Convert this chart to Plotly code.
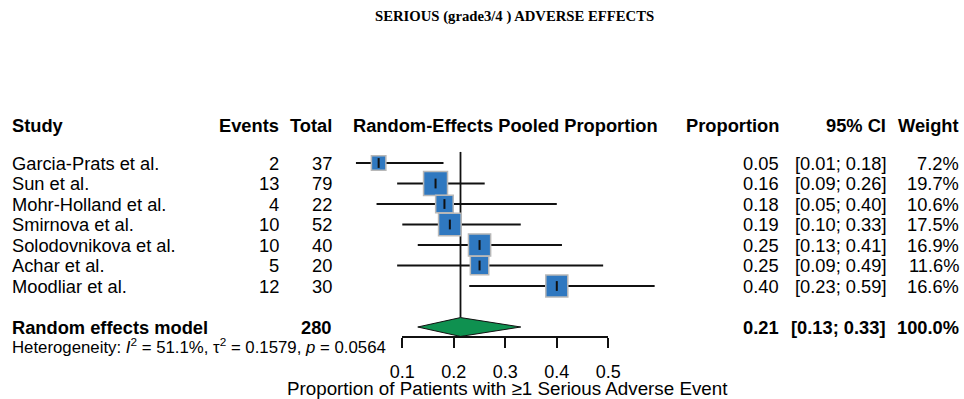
import plotly.graph_objects as go

# ---------------- data ----------------
studies = ["Garcia-Prats et al.", "Sun et al.", "Mohr-Holland et al.", "Smirnova et al.",
           "Solodovnikova et al.", "Achar et al.", "Moodliar et al."]
events = [2, 13, 4, 10, 10, 5, 12]
totals = [37, 79, 22, 52, 40, 20, 30]
ci_lo = [0.01, 0.09, 0.05, 0.10, 0.13, 0.09, 0.23]
ci_hi = [0.18, 0.26, 0.40, 0.33, 0.41, 0.49, 0.59]
weights = [7.2, 19.7, 10.6, 17.5, 16.9, 11.6, 16.6]

pooled_total = 280
pooled_est = 0.213
pooled_lo = 0.13
pooled_hi = 0.33
pooled_weight = 100.0

tick_vals = [0.1, 0.2, 0.3, 0.4, 0.5]
het_text = "Heterogeneity: <i>I</i><sup>2</sup> = 51.1%, τ<sup>2</sup> = 0.1579, <i>p</i> = 0.0564"
title_text = "SERIOUS (grade3/4 ) ADVERSE EFFECTS"
xlabel = "Proportion of Patients with ≥1 Serious Adverse Event"

# ---------------- layout helpers ----------------
W, H = 964, 399
FONT = "Liberation Sans, Arial, sans-serif"
FS = 18.3
px_per_unit = 515.0
px_at_01 = 402.3
x_range = [0.1 - px_at_01 / px_per_unit, 0.1 + (W - px_at_01) / px_per_unit]
row0_px, row_step = 163.0, 20.5
y_range = [(H - row0_px) / row_step, -row0_px / row_step]

def px(x):
    return x / W

est = [e / t for e, t in zip(events, totals)]
rows = list(range(len(studies)))
pooled_row = 8.0
header_row = -1.85
het_row = 8.95

fig = go.Figure()

# CI lines
cx, cy = [], []
for r, lo, hi in zip(rows, ci_lo, ci_hi):
    cx += [lo, hi, None]
    cy += [r, r, None]
fig.add_trace(go.Scatter(x=cx, y=cy, mode="lines", line=dict(color="#111111", width=2),
                         hoverinfo="skip", showlegend=False))

# reference line at pooled estimate
fig.add_trace(go.Scatter(x=[pooled_est, pooled_est], y=[-0.54, pooled_row - 0.46], mode="lines",
                         line=dict(color="#111111", width=1.8), hoverinfo="skip", showlegend=False))

# squares
fig.add_trace(go.Scatter(x=est, y=rows, mode="markers",
                         marker=dict(symbol="square", size=[5.4 * w ** 0.5 for w in weights],
                                     color="#2f78c0", opacity=1,
                                     line=dict(color="#b8b8b8", width=1.5)),
                         hoverinfo="skip", showlegend=False))
# center ticks
fig.add_trace(go.Scatter(x=est, y=rows, mode="markers",
                         marker=dict(symbol="line-ns", size=7, line=dict(color="#111111", width=2)),
                         hoverinfo="skip", showlegend=False))

# diamond
hh = 0.46
fig.add_trace(go.Scatter(x=[pooled_lo, pooled_est, pooled_hi, pooled_est, pooled_lo],
                         y=[pooled_row, pooled_row - hh, pooled_row, pooled_row + hh, pooled_row],
                         mode="lines", fill="toself", fillcolor="#0f9150",
                         line=dict(color="#111111", width=1), hoverinfo="skip", showlegend=False))

# invisible trace for the tick axis
fig.add_trace(go.Scatter(x=[0.1, 0.5], y=[0, 0], xaxis="x2", yaxis="y", mode="markers",
                         marker=dict(opacity=0), hoverinfo="skip", showlegend=False))

ann = []
def add(text, xpx, row, anchor="left", bold=False, size=FS, family=FONT, yref="y"):
    t = f"<b>{text}</b>" if bold else text
    ann.append(dict(text=t, x=px(xpx), xref="paper", y=row, yref=yref, xanchor=anchor,
                    yanchor="middle", showarrow=False,
                    font=dict(family=family, size=size, color="#000000")))

# headers
add("Study", 10, header_row, "left", True)
add("Events", 281, header_row, "right", True)
add("Total", 334, header_row, "right", True)
add("Random-Effects Pooled Proportion", 505, header_row, "center", True)
add("Proportion", 781, header_row, "right", True)
add("95% CI", 888, header_row, "right", True)
add("Weight", 961, header_row, "right", True)

for r, s, e, t, p, lo, hi, w in zip(rows, studies, events, totals, est, ci_lo, ci_hi, weights):
    add(s, 10, r, "left")
    add(str(e), 281, r, "right")
    add(str(t), 334, r, "right")
    add(f"{p:.2f}", 781, r, "right")
    add(f"[{lo:.2f}; {hi:.2f}]", 888, r, "right")
    add(f"{w:.1f}%", 961, r, "right")

add("Random effects model", 10, pooled_row, "left", True)
add(str(pooled_total), 334, pooled_row, "right", True)
add(f"{pooled_est:.2f}", 781, pooled_row, "right", True)
add(f"[{pooled_lo:.2f}; {pooled_hi:.2f}]", 888, pooled_row, "right", True)
add(f"{pooled_weight:.1f}%", 961, pooled_row, "right", True)
add(het_text, 10, het_row, "left", size=16.8)

# x-axis title (as annotation for exact placement)
add(xlabel, 507, (388 - row0_px) / row_step, "center", size=18.8)

# title
ann.append(dict(text=f"<b>{title_text}</b>", x=px(514), xref="paper", y=1 - 17 / H, yref="paper",
                xanchor="center", yanchor="middle", showarrow=False,
                font=dict(family="Liberation Serif, Times New Roman, serif", size=14.7, color="#000000")))

fig.update_layout(
    width=W, height=H, margin=dict(l=0, r=0, t=0, b=0, autoexpand=False),
    paper_bgcolor="white", plot_bgcolor="rgba(0,0,0,0)",
    annotations=ann, showlegend=False,
    xaxis=dict(range=x_range, visible=False, domain=[0, 1], fixedrange=True),
    yaxis=dict(range=y_range, visible=False, domain=[0, 1], fixedrange=True),
    xaxis2=dict(range=[0.1, 0.5], domain=[px_at_01 / W, (px_at_01 + 0.4 * px_per_unit) / W],
                anchor="free", position=1 - 337 / H, showline=True, linecolor="#111111", linewidth=1.5,
                ticks="outside", ticklen=10, tickwidth=1.5, tickcolor="#111111",
                tickvals=tick_vals, ticktext=[f"{v:.1f}" for v in tick_vals],
                ticklabelstandoff=9, showgrid=False, zeroline=False,
                tickfont=dict(family=FONT, size=18, color="#000000"),
                fixedrange=True),
)

fig.write_html("out.html")
